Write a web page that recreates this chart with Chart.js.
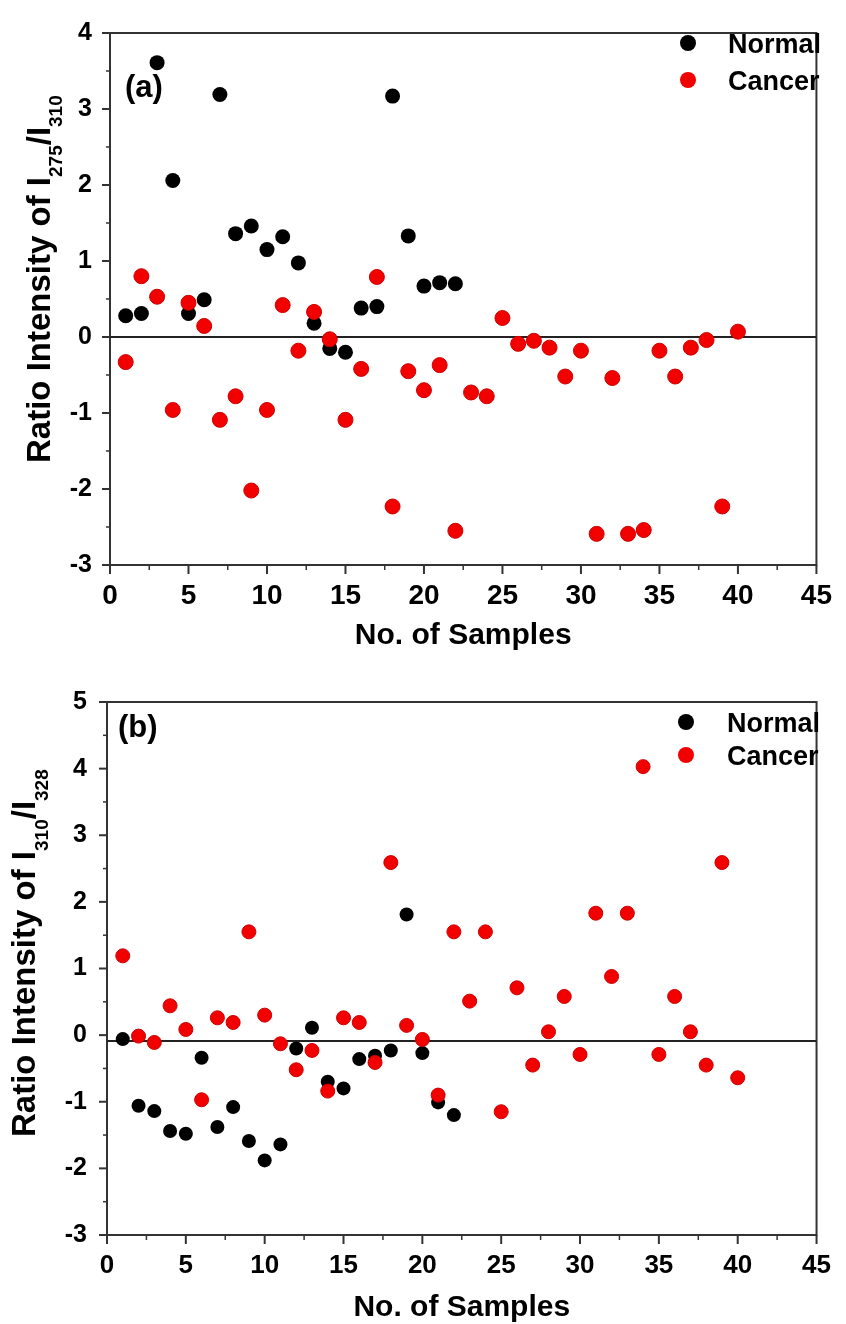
<!DOCTYPE html>
<html>
<head>
<meta charset="utf-8">
<script src="https://cdn.jsdelivr.net/npm/chart.js@4.4.1/dist/chart.umd.min.js"></script>
<style>
  body { margin: 0; background: #fff; }
  canvas { display: block; }
</style>
</head>
<body>
<canvas id="chartA" width="846" height="662"></canvas>
<canvas id="chartB" width="846" height="662"></canvas>
<script>
// sample numbers on the x axis
const sampleNos = [1, 2, 3, 4, 5, 6, 7, 8, 9, 10, 11, 12, 13, 14, 15, 16, 17, 18, 19, 20,
                   21, 22, 23, 24, 25, 26, 27, 28, 29, 30, 31, 32, 33, 34, 35, 36, 37, 38, 39, 40];

// (a) I275/I310
const normalA = [0.28, 0.31, 3.61, 2.06, 0.31, 0.49, 3.19, 1.36, 1.46, 1.15, 1.32, 0.975,
                 0.18, -0.15, -0.20, 0.38, 0.40, 3.17, 1.33, 0.67, 0.715, 0.70];
const cancerA = [-0.33, 0.80, 0.53, -0.96, 0.45, 0.145, -1.09, -0.78, -2.02, -0.96, 0.42, -0.18,
                 0.33, -0.03, -1.09, -0.42, 0.79, -2.23, -0.45, -0.70, -0.37, -2.55, -0.73, -0.78,
                 0.25, -0.09, -0.05, -0.14, -0.52, -0.18, -2.59, -0.54, -2.59, -2.54, -0.18, -0.52,
                 -0.14, -0.04, -2.23, 0.07];
const refLineA = [0, 0];

// (b) I310/I328
const normalB = [-0.06, -1.06, -1.14, -1.44, -1.48, -0.34, -1.38, -1.08, -1.59, -1.88, -1.64, -0.20,
                 0.11, -0.70, -0.80, -0.36, -0.31, -0.23, 1.81, -0.27, -1.01, -1.20];
const cancerB = [1.19, -0.015, -0.11, 0.44, 0.085, -0.97, 0.26, 0.19, 1.55, 0.30, -0.13, -0.52,
                 -0.23, -0.84, 0.26, 0.19, -0.41, 2.59, 0.146, -0.065, -0.90, 1.55, 0.51, 1.55,
                 -1.15, 0.71, -0.45, 0.05, 0.58, -0.29, 1.83, 0.88, 1.83, 4.03, -0.29, 0.58,
                 0.05, -0.45, 2.59, -0.64];
const refLineB = [-0.09, -0.09];

const xRange = [0, 45];
const seriesNames = ['Normal', 'Cancer'];

const FONT = '"Liberation Sans", Arial, sans-serif';
const RED = '#f20000';

function toPoints(vals) {
    return vals.map((v, i) => ({ x: sampleNos[i], y: v }));
}

// box, minor/major ticks, legend, panel label and y title with subscripts
const decorPlugin = {
    id: 'decor',
    beforeDatasetsDraw(chart, args, opts) {
        const ctx = chart.ctx;
        const a = chart.chartArea;
        const xs = chart.scales.x, ys = chart.scales.y;
        ctx.save();
        ctx.strokeStyle = '#333';
        ctx.lineWidth = 2;
        ctx.strokeRect(a.left, a.top, a.right - a.left, a.bottom - a.top);
        // y ticks
        for (let v = ys.min; v <= ys.max + 1e-9; v += 0.5) {
            const y = ys.getPixelForValue(v);
            const major = Math.abs(v - Math.round(v)) < 1e-6;
            ctx.lineWidth = major ? 2 : 1.5;
            ctx.beginPath();
            ctx.moveTo(a.left, y);
            ctx.lineTo(a.left - (major ? 8 : 4), y);
            ctx.stroke();
        }
        // x ticks
        for (let v = xs.min; v <= xs.max + 1e-9; v += 2.5) {
            const x = xs.getPixelForValue(v);
            const major = Math.abs(v / 5 - Math.round(v / 5)) < 1e-6;
            ctx.lineWidth = major ? 2 : 1.5;
            ctx.beginPath();
            ctx.moveTo(x, a.bottom);
            ctx.lineTo(x, a.bottom + (major ? 9 : 5));
            ctx.stroke();
        }
        ctx.restore();
    },
    afterDraw(chart, args, opts) {
        const ctx = chart.ctx;
        ctx.save();
        ctx.fillStyle = '#000';
        ctx.textAlign = 'left';
        ctx.textBaseline = 'alphabetic';

        // panel label
        ctx.font = 'bold 31px ' + FONT;
        ctx.fillText(opts.label, opts.labelX, opts.labelY);

        // legend
        const lg = opts.legend;
        const colors = ['#000', RED];
        ctx.font = 'bold 27px ' + FONT;
        seriesNames.forEach((name, i) => {
            ctx.fillStyle = colors[i];
            ctx.beginPath();
            ctx.arc(lg.markerX, lg.rows[i], 8, 0, 2 * Math.PI);
            ctx.fill();
            ctx.fillStyle = '#000';
            ctx.fillText(name, lg.textX, lg.rows[i] + 10);
        });

        // rotated y title with subscripts
        const yt = opts.yTitle;
        ctx.translate(yt.x, yt.y);
        ctx.rotate(-Math.PI / 2);
        let pos = 0;
        yt.parts.forEach(p => {
            ctx.font = p.sub ? 'bold 19px ' + FONT : 'bold 33px ' + FONT;
            ctx.fillText(p.t, pos, p.sub ? yt.subShift : 0);
            pos += ctx.measureText(p.t).width;
        });
        ctx.restore();
    }
};

function makePanel(id, normal, cancer, refLine, cfg) {
    return new Chart(document.getElementById(id), {
        type: 'scatter',
        data: {
            datasets: [
                {
                    label: seriesNames[0],
                    data: toPoints(normal),
                    backgroundColor: '#000',
                    borderColor: '#000',
                    borderWidth: 0,
                    pointRadius: cfg.r,
                    pointHoverRadius: cfg.r,
                    order: 2
                },
                {
                    label: seriesNames[1],
                    data: toPoints(cancer),
                    backgroundColor: RED,
                    borderColor: '#cc0000',
                    borderWidth: 1,
                    pointRadius: cfg.r,
                    pointHoverRadius: cfg.r,
                    order: 1
                },
                {
                    type: 'line',
                    label: 'ref',
                    data: [{ x: xRange[0], y: refLine[0] }, { x: xRange[1], y: refLine[1] }],
                    borderColor: '#222',
                    borderWidth: 2,
                    pointRadius: 0,
                    fill: false,
                    order: 3
                }
            ]
        },
        options: {
            responsive: false,
            animation: false,
            devicePixelRatio: 1,
            layout: { padding: cfg.padding },
            plugins: {
                legend: { display: false },
                tooltip: { enabled: false },
                decor: cfg.decor
            },
            scales: {
                x: {
                    type: 'linear',
                    min: xRange[0],
                    max: xRange[1],
                    grid: { display: false, drawTicks: false },
                    border: { display: false },
                    ticks: {
                        stepSize: 5,
                        maxRotation: 0,
                        padding: cfg.xTickPad,
                        color: '#000',
                        font: { family: FONT, size: cfg.xTickSize, weight: 'bold' }
                    },
                    title: {
                        display: true,
                        text: 'No. of Samples',
                        color: '#000',
                        font: { family: FONT, size: 30, weight: 'bold', lineHeight: 1 },
                        padding: { top: 0, bottom: cfg.xTitlePad }
                    },
                    afterFit(s) { s.height = cfg.xHeight; }
                },
                y: {
                    type: 'linear',
                    min: cfg.yMin,
                    max: cfg.yMax,
                    grid: { display: false, drawTicks: false },
                    border: { display: false },
                    ticks: {
                        stepSize: 1,
                        padding: cfg.yTickPad,
                        color: '#000',
                        font: { family: FONT, size: 25, weight: 'bold' }
                    },
                    afterFit(s) { s.width = cfg.yWidth; }
                }
            }
        },
        plugins: [decorPlugin]
    });
}

makePanel('chartA', normalA, cancerA, refLineA, {
    yMin: -3, yMax: 4, r: 7.5,
    padding: { top: 25, right: 16, bottom: 0, left: 0 },
    yWidth: 110, xHeight: 97,
    xTickSize: 28, xTickPad: 14, yTickPad: 18, xTitlePad: 11,
    decor: {
        label: '(a)', labelX: 125, labelY: 97,
        legend: { markerX: 688, textX: 728, rows: [43, 80] },
        yTitle: {
            x: 50, y: 463, subShift: 12,
            parts: [{ t: 'Ratio Intensity of I' }, { t: '275', sub: true }, { t: '/I' }, { t: '310', sub: true }]
        }
    }
});

makePanel('chartB', normalB, cancerB, refLineB, {
    yMin: -3, yMax: 5, r: 7,
    padding: { top: 40, right: 20, bottom: 0, left: 0 },
    yWidth: 107, xHeight: 89,
    xTickSize: 26, xTickPad: 15, yTickPad: 20, xTitlePad: 1,
    decor: {
        label: '(b)', labelX: 118, labelY: 75,
        legend: { markerX: 686, textX: 727, rows: [60, 93] },
        yTitle: {
            x: 35, y: 475, subShift: 13,
            parts: [{ t: 'Ratio Intensity of I' }, { t: '310', sub: true }, { t: '/I' }, { t: '328', sub: true }]
        }
    }
});
</script>
</body>
</html>
